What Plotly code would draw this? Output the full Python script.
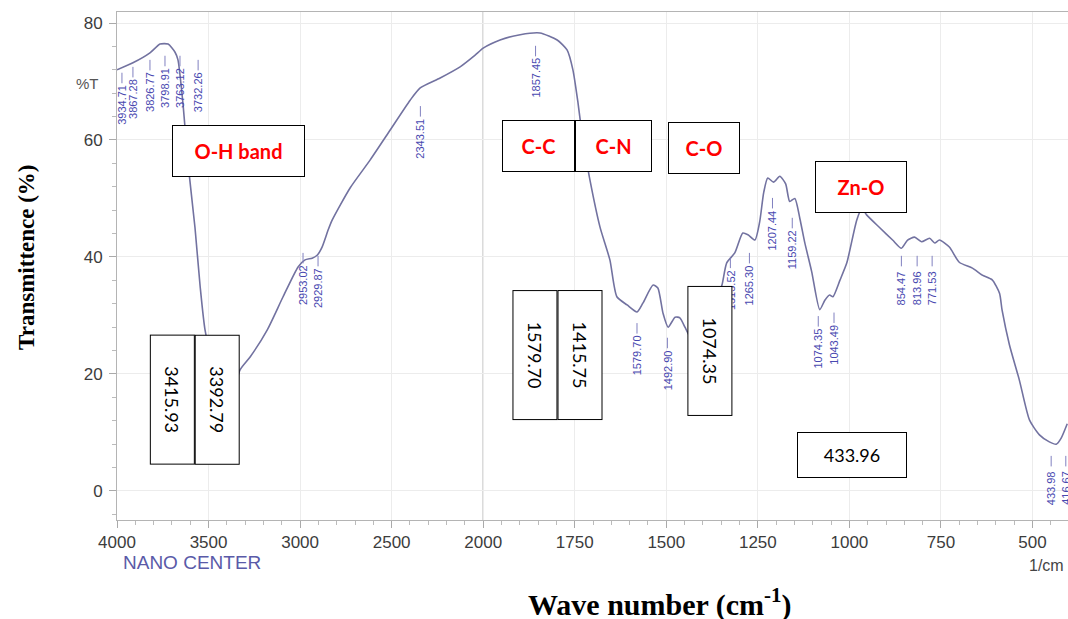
import plotly.graph_objects as go

# ---------------- data ----------------
wavenumber = [4000, 3913, 3820, 3765, 3721, 3683, 3667, 3639, 3612, 3574, 3546, 3519,
              3464, 3410, 3372, 3328, 3273, 3180, 3093, 3011, 2973, 2934, 2907, 2880,
              2847, 2825, 2727, 2617, 2508, 2399, 2344, 2235, 2126, 2044, 2000,
              1954, 1899, 1845, 1798, 1771, 1755, 1741, 1735, 1722, 1708, 1681, 1654,
              1635, 1607, 1580, 1564, 1536, 1523, 1509, 1495, 1476, 1463, 1449, 1441,
              1416, 1381, 1348, 1335, 1313, 1291, 1277, 1258, 1245, 1234, 1223, 1207,
              1190, 1174, 1163, 1149, 1135, 1122, 1103, 1081, 1067, 1054, 1045, 1026,
              1007, 980, 966, 953, 917, 882, 858, 841, 822, 803, 781, 767, 754, 727,
              700, 664, 637, 610, 590, 583, 563, 536, 508, 481, 454, 435, 422, 405]
transmittance = [72.0, 73.2, 74.9, 76.4, 76.4, 75.0, 73.7, 66.0, 56.0, 45.0, 35.0, 27.5,
                 20.0, 15.0, 16.0, 20.7, 22.9, 27.5, 33.2, 38.3, 39.5, 39.8, 40.3, 41.7,
                 44.6, 46.3, 51.8, 56.6, 61.7, 66.8, 68.9, 70.6, 72.5, 74.5, 75.7,
                 77.1, 78.0, 78.3, 77.1, 75.4, 72.0, 66.3, 63.4, 58.0, 53.0, 45.1, 39.5,
                 33.2, 31.8, 30.6, 32.1, 35.2, 34.7, 30.4, 28.0, 29.7, 29.6, 28.0, 27.0,
                 24.5, 29.0, 35.2, 39.0, 40.7, 44.1, 43.8, 42.9, 46.0, 51.0, 53.5, 52.8,
                 53.8, 52.5, 49.5, 50.0, 46.5, 42.5, 37.5, 31.0, 32.6, 33.5, 33.2, 36.0,
                 39.0, 46.3, 48.3, 47.2, 45.0, 42.9, 41.5, 42.9, 43.4, 42.6, 43.2, 42.4, 42.9, 41.7,
                 39.1, 38.1, 36.9, 36.1, 33.8, 30.9, 25.0, 19.0, 12.1, 9.6, 8.4, 8.0, 9.0, 11.5]

x_tick_labels = ["4000", "3500", "3000", "2500", "2000", "1750", "1500", "1250", "1000", "750", "500"]
y_tick_values = [0, 20, 40, 60, 80]

peak_labels = ["3934.71", "3867.28", "3826.77", "3798.91", "3763.12", "3732.26",
               "2953.02", "2929.87", "2343.51", "1857.45", "1579.70", "1492.90",
               "1313.52", "1265.30", "1207.44", "1159.22", "1074.35", "1043.49",
               "854.47", "813.96", "771.53", "433.98", "416.67"]
peak_label_x = [3973, 3913, 3820, 3738, 3656, 3557,
                2984, 2902, 2343, 1857, 1580, 1497,
                1325, 1273, 1210, 1156, 1085, 1042,
                858, 815, 774, 449, 409]
peak_label_y = [66.0, 67.0, 68.2, 68.9, 68.9, 68.2,
                35.2, 34.7, 60.3, 70.6, 23.2, 20.7,
                34.4, 35.2, 44.6, 41.2, 24.4, 25.0,
                34.7, 34.7, 34.7, 0.5, 0.5]

band_labels = ["O-H band", "C-C", "C-N", "C-O", "Zn-O"]
band_x = [3339, 1850, 1645, 1396, 967]
band_y = [58.1, 59.0, 59.0, 58.6, 52.0]
band_w = [131, 71, 75, 70, 90]

value_boxes = ["3415.93", "3392.79", "1579.70", "1415.75", "1074.35", "433.96"]
value_x = [3699, 3454, 1858, 1735, 1380, 992]
value_y = [15.6, 15.6, 23.2, 23.2, 23.9, 6.2]


# piece-wise linear wavenumber scale (scale change at 2000 cm-1)
def u(w):
    return (4000 - w) / 2 if w >= 2000 else 1000 + (2000 - w)


xs = [u(w) for w in wavenumber]

fig = go.Figure()
fig.add_trace(go.Scatter(x=xs, y=transmittance, mode="lines",
                         line=dict(color="#7272a0", width=1.6, shape="spline", smoothing=0.6),
                         hoverinfo="skip", showlegend=False))

# leader lines over the peak labels
lx, ly = [], []
for px_, py_ in zip(peak_label_x, peak_label_y):
    lx += [u(px_), u(px_), None]
    ly += [py_ + 3.7, py_ + 5.5, None]
fig.add_trace(go.Scatter(x=lx, y=ly, mode="lines", line=dict(color="#8080c0", width=1),
                         hoverinfo="skip", showlegend=False))

for t, px_, py_ in zip(peak_labels, peak_label_x, peak_label_y):
    fig.add_annotation(x=u(px_), y=py_, text=t, textangle=-90, showarrow=False,
                       font=dict(family="Arial", size=11, color="#4848b0"))

for t, bx, by, bw in zip(band_labels, band_x, band_y, band_w):
    fig.add_annotation(x=u(bx), y=by, text="<b>%s</b>" % t, showarrow=False,
                       font=dict(family="Lato", size=20, color="#ff0000"),
                       bgcolor="white", bordercolor="black", borderwidth=1, borderpad=0,
                       width=bw, height=50)

for t, bx, by in zip(value_boxes, value_x, value_y):
    if t == "433.96":
        fig.add_annotation(x=u(bx), y=by, text=t, showarrow=False,
                           font=dict(family="Lato", size=18, color="black"),
                           bgcolor="white", bordercolor="black", borderwidth=1, borderpad=0,
                           width=108, height=44)
    else:
        fig.add_annotation(x=u(bx), y=by, text=t, showarrow=False, textangle=90,
                           font=dict(family="Lato", size=18, color="black"),
                           bgcolor="white", bordercolor="black", borderwidth=1, borderpad=0,
                           width=128, height=43)

# scale-change line at 2000
fig.add_shape(type="line", x0=u(2000), x1=u(2000), y0=0, y1=1, yref="paper",
              line=dict(color="#a8a8a8", width=1.2), layer="below")

paper_text = dict(xref="paper", yref="paper", showarrow=False, xanchor="center", yanchor="middle")
fig.add_annotation(x=0.571, y=-0.163, text="<b>Wave number (cm<sup>-1</sup>)</b>",
                   font=dict(family="Liberation Serif", size=30, color="black"), **paper_text)
fig.add_annotation(x=-0.0946, y=0.516, textangle=-90, text="<b>Transmittence (%)</b>",
                   font=dict(family="Liberation Serif", size=23, color="black"), **paper_text)
fig.add_annotation(x=0.0789, y=-0.0827, text="NANO CENTER",
                   font=dict(family="Arial", size=19, color="#5a5aa8"), **paper_text)
fig.add_annotation(x=0.977, y=-0.0886, text="1/cm",
                   font=dict(family="Arial", size=16, color="#444"), **paper_text)
fig.add_annotation(x=-0.0305, y=0.860, text="%T",
                   font=dict(family="Arial", size=15, color="#555"), **paper_text)

fig.update_layout(
    width=1068, height=619,
    margin=dict(l=117, r=0, t=12, b=99),
    paper_bgcolor="white", plot_bgcolor="white",
    xaxis=dict(range=[0, 2597], tickvals=[i * 250 for i in range(len(x_tick_labels))],
               ticktext=x_tick_labels, showgrid=True, gridcolor="#ececec", gridwidth=1,
               zeroline=False, showline=True, linecolor="#b4b4b4", mirror=True,
               ticks="outside", ticklen=7, tickcolor="#aaaaaa",
               minor=dict(dtick=50, ticks="outside", ticklen=4, tickcolor="#bbbbbb", showgrid=False),
               tickfont=dict(family="Arial", size=17, color="#3c3c3c")),
    yaxis=dict(range=[-4.96, 81.88], tickvals=y_tick_values, showgrid=True,
               gridcolor="#ececec", gridwidth=1, zeroline=False, showline=True,
               linecolor="#b4b4b4", mirror=True, ticks="outside", ticklen=7,
               tickcolor="#aaaaaa", ticklabelstandoff=3,
               minor=dict(dtick=4, ticks="outside", ticklen=4, tickcolor="#bbbbbb", showgrid=False),
               tickfont=dict(family="Arial", size=17, color="#3c3c3c")),
)

fig.write_html("out.html", config={"displayModeBar": False},
               post_script="document.body.style.margin='0';document.body.style.padding='0';")
